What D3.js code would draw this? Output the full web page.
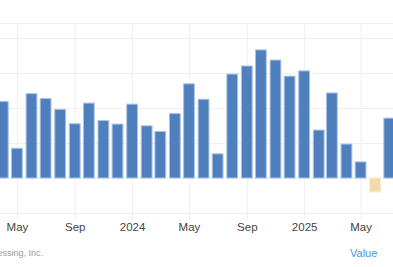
<!DOCTYPE html>
<html>
<head>
<meta charset="utf-8">
<script src="https://cdn.jsdelivr.net/npm/d3@7"></script>
<style>
  body { margin: 0; background: #fff; }
  svg { display: block; font-family: "Liberation Sans", Arial, sans-serif; }
</style>
</head>
<body>
<div id="container"></div>
<script>
/* CONSTANTS AND GLOBALS */
const width = 393,
  height = 267,
  plot = { top: 23, gridBottom: 213, bottom: 220 };

// monthly values, Apr 2023 .. Jul 2025
const months = [
  "2023-04", "2023-05", "2023-06", "2023-07", "2023-08", "2023-09", "2023-10",
  "2023-11", "2023-12", "2024-01", "2024-02", "2024-03", "2024-04", "2024-05",
  "2024-06", "2024-07", "2024-08", "2024-09", "2024-10", "2024-11", "2024-12",
  "2025-01", "2025-02", "2025-03", "2025-04", "2025-05", "2025-06", "2025-07"
];
const values = [
  2.19, 0.85, 2.41, 2.27, 1.96, 1.55, 2.14,
  1.64, 1.54, 2.11, 1.49, 1.33, 1.84, 2.69,
  2.25, 0.69, 2.97, 3.20, 3.66, 3.37, 2.91,
  3.06, 1.37, 2.43, 0.97, 0.46, -0.40, 1.71
];
const yTicks = [-1, 0, 1, 2, 3, 4];
const sourceText = "Source: Automatic Data Processing, Inc.";
const legendText = "Value";

const parseMonth = d3.timeParse("%Y-%m");
const data = months.map((m, i) => ({ date: parseMonth(m), value: values[i] }));

/* SCALES */
const xScale = d3.scaleTime()
  .domain([new Date(2023, 2, 26), new Date(2025, 6, 9)])
  .range([0, width]);

const yScale = d3.scaleLinear()
  .domain([-1, 4])
  .range([plot.gridBottom, plot.gridBottom - 5 * 35]);

const monthPx = xScale(new Date(2024, 1, 1)) - xScale(new Date(2024, 0, 1));
const barW = monthPx * 0.74;

/* SVG */
const svg = d3.select("#container")
  .append("svg")
  .attr("width", width)
  .attr("height", height);

// horizontal grid
svg.append("g")
  .selectAll("line")
  .data(yTicks)
  .join("line")
    .attr("x1", 0)
    .attr("x2", width)
    .attr("y1", d => Math.round(yScale(d)) + 0.5)
    .attr("y2", d => Math.round(yScale(d)) + 0.5)
    .attr("stroke", "#f0f0f0");

// top border of plot
svg.append("line")
  .attr("x1", 0).attr("x2", width)
  .attr("y1", plot.top + 0.5).attr("y2", plot.top + 0.5)
  .attr("stroke", "#f0f0f0");

// x axis with vertical grid
const xAxis = d3.axisBottom(xScale)
  .ticks(d3.timeMonth.every(4))
  .tickSize(-(plot.bottom - plot.top))
  .tickPadding(3)
  .tickFormat(d => d.getMonth() === 0 ? d3.timeFormat("%Y")(d) : d3.timeFormat("%b")(d));

const gx = svg.append("g")
  .attr("transform", `translate(0, ${plot.bottom})`)
  .call(xAxis);
gx.select(".domain").remove();
gx.selectAll(".tick line").attr("stroke", "#f0f0f0");
gx.selectAll(".tick text")
  .attr("fill", "#444")
  .attr("font-size", 11.5)
  .attr("font-family", "'Liberation Sans', Arial, sans-serif");

// bars
svg.append("g")
  .selectAll("rect")
  .data(data)
  .join("rect")
    .attr("x", d => xScale(d.date) - barW / 2)
    .attr("width", barW)
    .attr("y", d => yScale(Math.max(0, d.value)))
    .attr("height", d => Math.abs(yScale(d.value) - yScale(0)))
    .attr("fill", d => d.value < 0 ? "#f5d9aa" : "#4f7fbd")
    .attr("stroke", d => d.value < 0 ? "#faeacc" : "#a9c2e4")
    .attr("stroke-width", 1);

// source (cut at the left edge, as in the reference)
svg.append("text")
  .attr("x", 43)
  .attr("y", 256)
  .attr("text-anchor", "end")
  .attr("font-size", 9)
  .attr("fill", "#9a9a9a")
  .text(sourceText);

// legend
svg.append("text")
  .attr("x", 350)
  .attr("y", 257)
  .attr("font-size", 11)
  .attr("fill", "#4d94e0")
  .text(legendText);
</script>
</body>
</html>
